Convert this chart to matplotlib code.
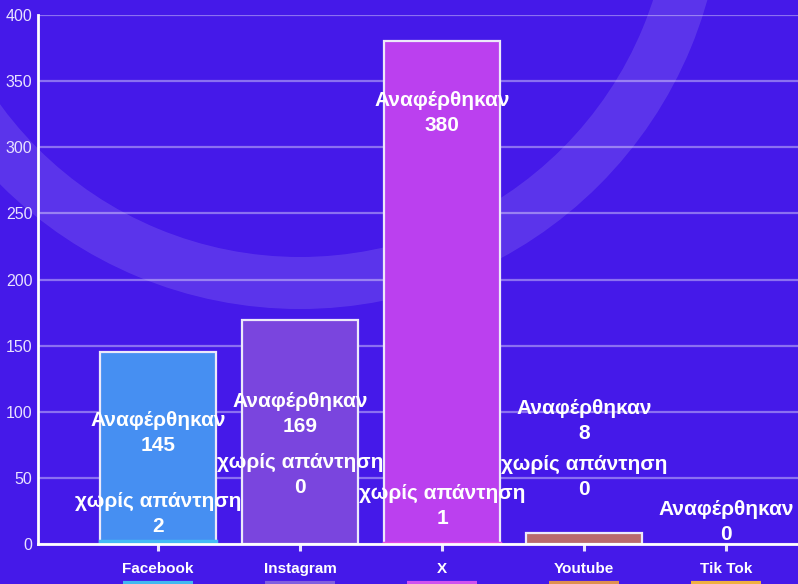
"""
Stacked social-media answer chart on a purple background.
"""

import matplotlib
matplotlib.use("Agg")
import matplotlib.pyplot as plt
from matplotlib.patches import Annulus

platforms = ["Facebook", "Instagram", "X", "Youtube", "Tik Tok"]
reported = [145, 169, 380, 8, 0]
no_answer = [2, 0, 1, 0, None]

label_reported = "Αναφέρθηκαν"
label_no_answer = "χωρίς απάντηση"

bar_colors = ["#468ff2", "#7a45de", "#bb40ef", "#b86a6e", "#e8a040"]
strip_colors = ["#45baf5", "#8a5ae6", "#e04ae8", "#c07070", "#f0b040"]
underline_colors = ["#40b8f0", "#7f5fe0", "#d050f0", "#e09050", "#f0b040"]

# where the value labels sit (data units, centre of the two-line block)
reported_label_y = [84, 98, 326, 93, 17]
no_answer_label_y = [23, 52, 29, 51, None]

BG = "#4519e9"
FONT = ["Liberation Sans", "DejaVu Sans"]
plt.rcParams["font.family"] = FONT

fig = plt.figure(figsize=(7.98, 5.84), dpi=100)
fig.patch.set_facecolor(BG)

ring = Annulus((3.0, 6.98), 4.23, 0.52, transform=fig.dpi_scale_trans,
               facecolor="white", alpha=0.12, edgecolor="none", zorder=-1)
fig.add_artist(ring)

ax = fig.add_axes([38 / 798, 40 / 584, 760 / 798, 529 / 584])
ax.set_facecolor("none")
ax.set_zorder(1)

x = list(range(len(platforms)))
na_values = [v or 0 for v in no_answer]
# empty bars get no outline, as in the original
ax.bar(x, reported, width=0.82, color=bar_colors, edgecolor="#ece8fa",
       linewidth=[1.6 if v > 0 else 0 for v in reported], zorder=2)
ax.bar(x, na_values, width=0.82, color=strip_colors, edgecolor=strip_colors,
       linewidth=[2.5 if v > 0 else 0 for v in na_values], zorder=3)

for i in x:
    ax.text(i, reported_label_y[i], f"{label_reported}\n{reported[i]}",
            ha="center", va="center", color="white", fontsize=15,
            fontweight="bold", linespacing=1.4, zorder=5)
    if no_answer[i] is not None:
        ax.text(i, no_answer_label_y[i], f"{label_no_answer}\n{no_answer[i]}",
                ha="center", va="center", color="white", fontsize=15,
                fontweight="bold", linespacing=1.4, zorder=5)

ax.set_xlim(-120 / 142, 640 / 142)
ax.set_ylim(0, 400)
ax.set_yticks(range(0, 401, 50))
ax.set_xticks(x)
ax.set_xticklabels(platforms, fontweight="bold", fontsize=11, color="white")

ax.grid(axis="y", color="white", alpha=0.38, linewidth=1.6)
ax.set_axisbelow(True)

for side in ("top", "right"):
    ax.spines[side].set_visible(False)
for side in ("left", "bottom"):
    ax.spines[side].set_color("white")
    ax.spines[side].set_linewidth(2)
    ax.spines[side].set_zorder(4)

ax.tick_params(axis="y", length=0, pad=4, labelsize=11.5, labelcolor="#e8e2ff")
ax.tick_params(axis="x", length=5, width=2.2, color="#e8e2ff", pad=8)

# coloured underline below each category name
ax.hlines([-0.073] * len(x), [i - 0.245 for i in x], [i + 0.245 for i in x],
          colors=underline_colors, linewidth=3,
          transform=ax.get_xaxis_transform(), clip_on=False)

fig.savefig("out.png", dpi=100, facecolor=BG)
